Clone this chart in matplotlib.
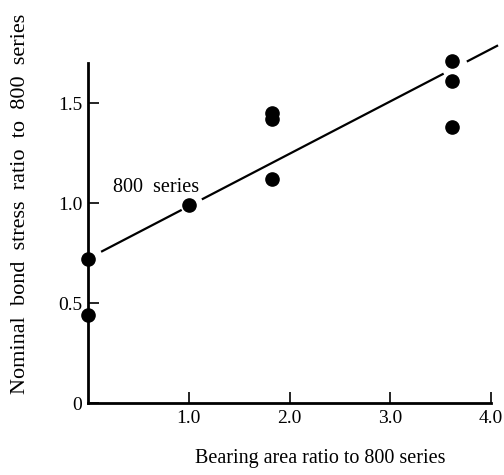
import matplotlib
matplotlib.use("Agg")
import matplotlib.pyplot as plt
import numpy as np

# Data
x_points = [0.0, 0.0, 1.0, 1.83, 1.83, 1.83, 3.61, 3.61, 3.61]
y_points = [0.44, 0.72, 0.99, 1.42, 1.45, 1.12, 1.71, 1.61, 1.38]

# Fitted trend line: y = intercept + slope * x, drawn in pieces (gaps around markers)
fit_intercept = 0.722
fit_slope = 0.262
line_pieces = [(0.13, 0.93), (1.13, 3.53), (3.76, 4.07)]

x_ticks = [1.0, 2.0, 3.0, 4.0]
x_ticklabels = ["1.0", "2.0", "3.0", "4.0"]
y_ticks = [0.0, 0.5, 1.0, 1.5]
y_ticklabels = ["0", "0.5", "1.0", "1.5"]

plt.rcParams['font.family'] = ['Liberation Serif', 'DejaVu Serif']

fig = plt.figure(figsize=(5.04, 4.75), dpi=100)
ax = fig.add_axes([88/504, 1 - 403/475, (491-88)/504, (403-63)/475])

ax.set_xlim(0, 4.0)
ax.set_ylim(0, 1.70)

for x0, x1 in line_pieces:
    xs = np.array([x0, x1])
    ax.plot(xs, fit_intercept + fit_slope * xs, color='black', lw=1.6,
            solid_capstyle='butt', clip_on=False)

ax.plot(x_points, y_points, 'o', color='black', markersize=9.5, clip_on=False, zorder=5)

ax.annotate("800  series", xy=(1.0, 0.99), xytext=(0.25, 1.08), fontsize=14.5,
            ha='left', va='center')

for s in ['top', 'right']:
    ax.spines[s].set_visible(False)
for s in ['left', 'bottom']:
    ax.spines[s].set_linewidth(2)

ax.set_xticks(x_ticks)
ax.set_xticklabels(x_ticklabels, fontsize=14)
ax.set_yticks(y_ticks)
ax.set_yticklabels(y_ticklabels, fontsize=14)
ax.tick_params(direction='in', length=8, width=1.2)
ax.tick_params(axis='x', pad=5)
ax.tick_params(axis='y', pad=4)

ax.set_xlabel("Bearing area ratio to 800 series", fontsize=14.5)
ax.set_ylabel("Nominal  bond  stress  ratio  to  800  series", fontsize=16)
ax.xaxis.set_label_coords(0.577, -0.135)
ax.yaxis.set_label_coords(-0.145, 0.587)

fig.savefig("out.png", dpi=100)
